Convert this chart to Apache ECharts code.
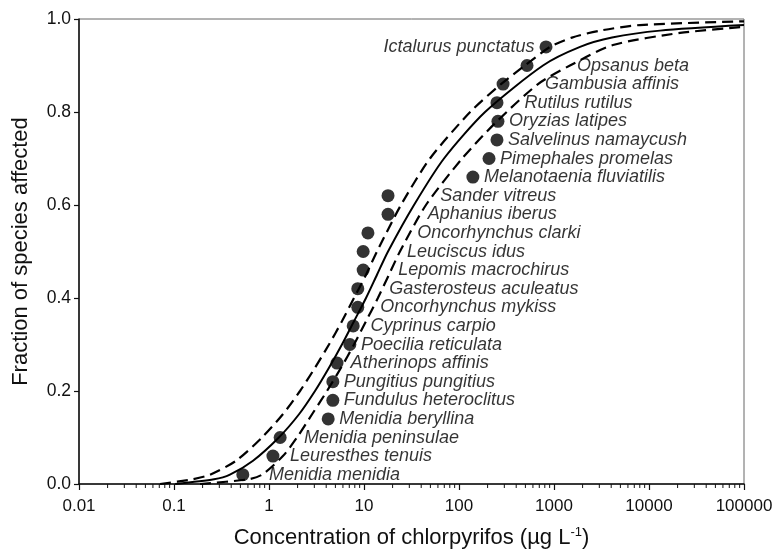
<!DOCTYPE html>
<html>
<head>
<meta charset="utf-8">
<script src="https://cdn.jsdelivr.net/npm/echarts@6/dist/echarts.min.js"></script>
<style>
  html, body { margin: 0; padding: 0; background: #fff; }
  #myChart { width: 775px; height: 550px; }
</style>
</head>
<body>
<div id="myChart"></div>
<script>
// species, ordered by sensitivity (lowest first)
var species = ["Menidia menidia", "Leuresthes tenuis", "Menidia peninsulae", "Menidia beryllina",
  "Fundulus heteroclitus", "Pungitius pungitius", "Atherinops affinis", "Poecilia reticulata",
  "Cyprinus carpio", "Oncorhynchus mykiss", "Gasterosteus aculeatus", "Lepomis macrochirus",
  "Leuciscus idus", "Oncorhynchus clarki", "Aphanius iberus", "Sander vitreus",
  "Melanotaenia fluviatilis", "Pimephales promelas", "Salvelinus namaycush", "Oryzias latipes",
  "Rutilus rutilus", "Gambusia affinis", "Opsanus beta", "Ictalurus punctatus"];
var conc = [0.53, 1.1, 1.31, 4.2, 4.7, 4.7, 5.2, 7.1, 7.7, 8.6, 8.6, 9.8,
  9.8, 11, 17.9, 17.9, 140, 207, 251, 257, 251, 291, 520, 824];
var fraction = [0.02, 0.06, 0.10, 0.14, 0.18, 0.22, 0.26, 0.30, 0.34, 0.38, 0.42, 0.46,
  0.50, 0.54, 0.58, 0.62, 0.66, 0.70, 0.74, 0.78, 0.82, 0.86, 0.90, 0.94];

// fitted curve and the two confidence limits
var fitConc = [0.103, 0.264, 0.388, 0.679, 1.27, 2.07, 3.05, 4.28, 5.86, 7.85, 10.5, 13.7, 17.9,
  33.6, 69.5, 188, 766, 1880, 4080, 13060, 100000];
var fitFrac = [0, 0.01, 0.02, 0.05, 0.10, 0.15, 0.20, 0.25, 0.30, 0.35, 0.40, 0.45, 0.50,
  0.60, 0.70, 0.80, 0.90, 0.94, 0.96, 0.975, 0.987];
var loConc = [0.0713, 0.155, 0.239, 0.45, 0.844, 1.40, 2.12, 3.05, 4.28, 5.86, 7.85, 10.5, 13.7,
  24.5, 49.5, 131, 277, 495, 908, 1545, 3050, 8040, 100000];
var loFrac = [0, 0.01, 0.02, 0.05, 0.10, 0.15, 0.20, 0.25, 0.30, 0.35, 0.40, 0.45, 0.50,
  0.60, 0.70, 0.80, 0.86, 0.90, 0.94, 0.96, 0.975, 0.987, 0.995];
var hiConc = [0.188, 0.601, 0.844, 1.40, 1.97, 2.84, 4.08, 5.73, 7.85, 10.5, 14.0, 18.3, 23.9,
  44.9, 108, 251, 679, 1473, 4180, 21200, 100000];
var hiFrac = [0, 0.01, 0.02, 0.06, 0.10, 0.15, 0.20, 0.25, 0.30, 0.35, 0.40, 0.45, 0.50,
  0.60, 0.70, 0.78, 0.86, 0.90, 0.944, 0.97, 0.983];

var xTicks = [0.01, 0.1, 1, 10, 100, 1000, 10000, 100000];
var xTickLabels = ["0.01", "0.1", "1", "10", "100", "1000", "10000", "100000"];
var minorSteps = [2, 3, 4, 5, 6, 7, 8, 9];

function pairs(xs, ys) {
  var out = [];
  for (var i = 0; i < xs.length; i++) out.push([xs[i], ys[i]]);
  return out;
}

var minorTicks = [];
for (var d = 0; d < xTicks.length - 1; d++) {
  for (var m = 0; m < minorSteps.length; m++) minorTicks.push([xTicks[d] * minorSteps[m], 0]);
}

var myChart = echarts.init(document.getElementById("myChart"));
var font = "Liberation Sans, Arial, Helvetica, sans-serif";

var option = {
  animation: false,
  grid: {
    left: 79, right: 31, top: 19, bottom: 66, outerBoundsMode: "none",
    show: true, borderColor: "#666", borderWidth: 1
  },
  xAxis: {
    type: "log", logBase: 10, min: 0.01, max: 100000,
    name: "Concentration of chlorpyrifos (µg L{sup|-1})",
    nameLocation: "middle", nameGap: 42,
    nameTextStyle: {
      fontFamily: font, fontSize: 22, color: "#111",
      rich: { sup: { fontFamily: font, fontSize: 13, color: "#111", verticalAlign: "top", padding: [0, 0, 11, 0] } }
    },
    axisLine: { lineStyle: { color: "#111", width: 1.5 } },
    axisTick: { length: 6, lineStyle: { color: "#111", width: 1.2 } },
    axisLabel: {
      fontFamily: font, fontSize: 17, color: "#111", margin: 14,
      formatter: function (v) {
        var i = xTicks.indexOf(Number(v.toPrecision(6)));
        return i >= 0 ? xTickLabels[i] : "";
      }
    },
    splitLine: { show: false }
  },
  yAxis: {
    type: "value", min: 0, max: 1, interval: 0.2,
    name: "Fraction of species affected",
    nameLocation: "middle", nameGap: 47,
    nameTextStyle: { fontFamily: font, fontSize: 22, color: "#111" },
    axisLine: { lineStyle: { color: "#111", width: 1.5 } },
    axisTick: { length: 5, lineStyle: { color: "#111", width: 1.2 } },
    axisLabel: {
      fontFamily: font, fontSize: 17.5, color: "#111", margin: 8,
      formatter: function (v) { return v.toFixed(1); }
    },
    splitLine: { show: false }
  },
  series: [
    {
      name: "minor", type: "custom", data: minorTicks, silent: true, clip: false,
      renderItem: function (params, api) {
        var p = api.coord([api.value(0), 0]);
        return { type: "line", shape: { x1: p[0], y1: p[1], x2: p[0], y2: p[1] + 4 },
          style: { stroke: "#111", lineWidth: 1 } };
      }
    },
    {
      name: "lower", type: "line", data: pairs(loConc, loFrac), symbol: "none", smooth: 0.25,
      lineStyle: { color: "#000", width: 2.2, type: [11, 6] }, z: 3
    },
    {
      name: "fit", type: "line", data: pairs(fitConc, fitFrac), symbol: "none", smooth: 0.25,
      lineStyle: { color: "#000", width: 2 }, z: 3
    },
    {
      name: "upper", type: "line", data: pairs(hiConc, hiFrac), symbol: "none", smooth: 0.25,
      lineStyle: { color: "#000", width: 2.2, type: [11, 6] }, z: 3
    },
    {
      name: "species", type: "scatter", symbol: "circle", symbolSize: 13,
      itemStyle: { color: "#000" }, z: 5,
      data: pairs(conc, fraction)
    }
  ]
};
myChart.setOption(option);

// x of the right-hand limit at a given fraction (linear in log space)
function hiAt(f) {
  for (var i = 1; i < hiFrac.length; i++) {
    if (f <= hiFrac[i]) {
      var t = (f - hiFrac[i - 1]) / (hiFrac[i] - hiFrac[i - 1]);
      var lx = Math.log(hiConc[i - 1]) + t * (Math.log(hiConc[i]) - Math.log(hiConc[i - 1]));
      return Math.exp(lx);
    }
  }
  return hiConc[hiConc.length - 1];
}

// species names sit just right of the point or of the dashed limit
var labelled = [];
for (var i = 0; i < species.length; i++) {
  var pt = myChart.convertToPixel({ gridIndex: 0 }, [conc[i], fraction[i]]);
  var lim = myChart.convertToPixel({ gridIndex: 0 }, [hiAt(fraction[i]), fraction[i]]);
  var start = Math.max(pt[0] + 11, lim[0] + 7);
  var item = { value: [conc[i], fraction[i]], label: {} };
  if (i === species.length - 1) {
    item.label = { position: "left", distance: 5 };
  } else {
    item.label = { position: "right", distance: 0, offset: [start - pt[0] - 6.5, 0] };
  }
  labelled.push(item);
}
myChart.setOption({
  series: [{}, {}, {}, {}, {
    data: labelled,
    label: {
      show: true, fontFamily: font, fontStyle: "italic", fontSize: 18, color: "#000",
      formatter: function (p) { return species[p.dataIndex]; }
    }
  }]
});
</script>
</body>
</html>
